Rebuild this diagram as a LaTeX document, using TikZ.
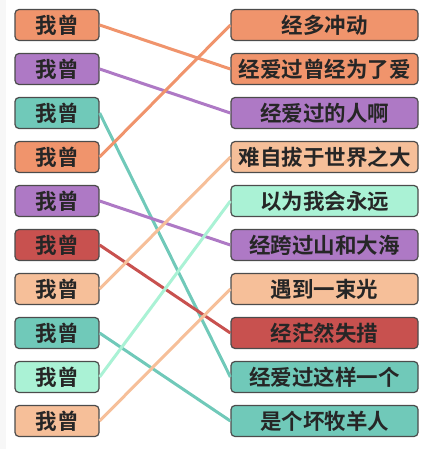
\documentclass[tikz,border=0pt]{standalone}
\usepackage{fontspec}
\newfontfamily\cjk{Noto Sans CJK SC Bold}
\definecolor{cOrange}{HTML}{F0946C}
\definecolor{cPurple}{HTML}{AE79C5}
\definecolor{cTeal}{HTML}{70C9B9}
\definecolor{cRed}{HTML}{C8514F}
\definecolor{cPeach}{HTML}{F6BF99}
\definecolor{cMint}{HTML}{AAF2D5}
\tikzset{
  Box/.style = {draw = black!70, line width = 1.2pt, rounded corners = 4pt,
                inner sep = 0pt, minimum height = 31pt,
                font = \cjk\fontsize{21.5}{21.5}\selectfont, text = black!85},
  Left/.style = {Box, minimum width = 84pt},
  Right/.style = {Box, minimum width = 187pt},
  Link/.style = {line width = 3pt}
}
\begin{document}
\begin{tikzpicture}[x = 1pt, y = -1pt]
    \useasboundingbox (0,0) rectangle (431,449);
    \fill[black!3] (0,0) rectangle (6,449);

    \node[Left, fill = cOrange] (L1)  at (57, 25)  {我曾};
    \node[Left, fill = cPurple] (L2)  at (57, 69)  {我曾};
    \node[Left, fill = cTeal]   (L3)  at (57, 113) {我曾};
    \node[Left, fill = cOrange] (L4)  at (57, 157) {我曾};
    \node[Left, fill = cPurple] (L5)  at (57, 201) {我曾};
    \node[Left, fill = cRed]    (L6)  at (57, 245) {我曾};
    \node[Left, fill = cPeach]  (L7)  at (57, 289) {我曾};
    \node[Left, fill = cTeal]   (L8)  at (57, 333) {我曾};
    \node[Left, fill = cMint]   (L9)  at (57, 377) {我曾};
    \node[Left, fill = cPeach]  (L10) at (57, 421) {我曾};

    \node[Right, fill = cOrange] (R1)  at (324.5, 25)  {经多冲动};
    \node[Right, fill = cOrange] (R2)  at (324.5, 69)  {经爱过曾经为了爱};
    \node[Right, fill = cPurple] (R3)  at (324.5, 113) {经爱过的人啊};
    \node[Right, fill = cPeach]  (R4)  at (324.5, 157) {难自拔于世界之大};
    \node[Right, fill = cMint]   (R5)  at (324.5, 201) {以为我会永远};
    \node[Right, fill = cPurple] (R6)  at (324.5, 245) {经跨过山和大海};
    \node[Right, fill = cPeach]  (R7)  at (324.5, 289) {遇到一束光};
    \node[Right, fill = cRed]    (R8)  at (324.5, 333) {经茫然失措};
    \node[Right, fill = cTeal]   (R9)  at (324.5, 377) {经爱过这样一个};
    \node[Right, fill = cTeal]   (R10) at (324.5, 421) {是个坏牧羊人};

    % matching lines
    \draw[Link, cOrange] (L1.east) -- (R2.west);
    \draw[Link, cPurple] (L2.east) -- (R3.west);
    \draw[Link, cTeal]   (L3.east) -- (R9.west);
    \draw[Link, cOrange] (L4.east) -- (R1.west);
    \draw[Link, cPurple] (L5.east) -- (R6.west);
    \draw[Link, cRed]    (L6.east) -- (R8.west);
    \draw[Link, cPeach]  (L7.east) -- (R4.west);
    \draw[Link, cTeal]   (L8.east) -- (R10.west);
    \draw[Link, cMint]   (L9.east) -- (R5.west);
    \draw[Link, cPeach]  (L10.east) -- (R7.west);

  \end{tikzpicture}
\end{document}
